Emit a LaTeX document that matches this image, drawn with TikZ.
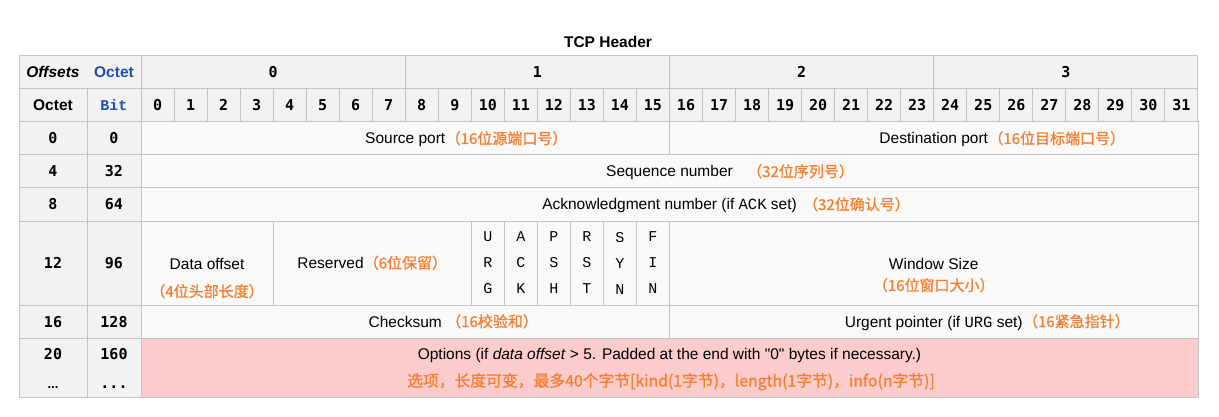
\documentclass[tikz,border=0pt]{standalone}
\usepackage{fontspec}
\setmainfont{Liberation Sans}[Ligatures=TeXOff]
\newfontfamily\bitfont{DejaVu Sans Mono}
\newfontfamily\flagfont{Liberation Mono}
\newfontfamily\cjk{Noto Sans CJK SC}[FakeBold=1]
\usetikzlibrary{positioning}
\definecolor{grid}{RGB}{196,196,196}
\definecolor{headbg}{RGB}{242,242,242}
\definecolor{cellbg}{RGB}{249,249,249}
\definecolor{optbg}{RGB}{252,204,204}
\definecolor{note}{RGB}{242,128,48}
\definecolor{wikiblue}{RGB}{30,80,180}
\def\bw{33.03}
\tikzset{
  every picture/.style={font=\fontsize{15.5}{18}\selectfont},
  box/.style={draw=grid,line width=1pt,fill=cellbg,inner sep=0pt,outer sep=0pt},
  txt/.style={text height=11pt,text depth=0pt},
  head/.style={box,txt,fill=headbg,font=\fontsize{15.5}{18}\selectfont\bfseries},
  num/.style={head,font=\bitfont\bfseries\fontsize{15}{18}\selectfont},
  lbl/.style={txt,inner sep=0pt},
  cn/.style={lbl,text=note,font=\cjk\fontsize{15}{18}\selectfont},
  flag/.style={box,align=center,font=\flagfont\fontsize{15}{26}\selectfont},
}
\begin{document}
\begin{tikzpicture}[x=1pt,y=-1pt]
  \useasboundingbox (0,0) rectangle (1219,417);
  \node[lbl,font=\fontsize{15.5}{18}\selectfont\bfseries] (title) at (608,42) {TCP Header};
  % header rows
  \node[head,minimum width=122pt,minimum height=33pt] (offs) at (80,72.5) {};
  \node[lbl,font=\fontsize{15.5}{18}\selectfont\bfseries\itshape] (offsets) at (53,72.5) {Offsets};
  \node[lbl,text=wikiblue,font=\fontsize{15.5}{18}\selectfont\bfseries] (octet) at (114,72.5) {Octet};
  \foreach \o in {0,...,3}
    \node[num,minimum width=8*\bw pt,minimum height=33pt] (oct\o) at ({141+8*\bw*\o+4*\bw},72.5) {\o};
  \node[head,minimum width=68pt,minimum height=33pt] (octlbl) at (53,105.5) {Octet};
  \node[head,minimum width=54pt,minimum height=33pt,text=wikiblue,font=\flagfont\bfseries\fontsize{15}{18}\selectfont] (bitlbl) at (114,105.5) {Bit};
  \foreach \b in {0,...,31}
    \node[num,minimum width=\bw pt,minimum height=33pt] (bit\b) at ({141+\bw*\b+\bw/2},105.5) {\b};
  % offset columns
  \foreach \oc/\bt/\y/\h [count=\r] in {0/0/138.5/33,4/32/171.5/33,8/64/204.5/33,12/96/263/84,16/128/321.5/33}{
    \node[num,minimum width=68pt,minimum height=\h pt] (oc\r) at (53,\y) {\oc};
    \node[num,minimum width=54pt,minimum height=\h pt] (bt\r) at (114,\y) {\bt};
  }
  \node[num,minimum width=68pt,minimum height=59pt] (oc6) at (53,367.5) {};
  \node[num,minimum width=54pt,minimum height=59pt] (bt6) at (114,367.5) {};
  \node[lbl,font=\bitfont\bfseries\fontsize{15}{18}\selectfont] (oc6a) at (53,354) {20};
  \node[lbl,font=\fontsize{13}{16}\selectfont\bfseries] (oc6b) at (53,383) {...};
  \node[lbl,font=\bitfont\bfseries\fontsize{15}{18}\selectfont] (bt6a) at (114,354) {160};
  \node[lbl,font=\bitfont\bfseries\fontsize{15}{18}\selectfont] (bt6b) at (114,383) {...};
  % fields
  \node[box,minimum width=528.5pt,minimum height=33pt] (src) at (405.25,138.5) {};
  \node[box,minimum width=528.5pt,minimum height=33pt] (dst) at (933.75,138.5) {};
  \node[box,minimum width=1057pt,minimum height=33pt] (seq) at (669.5,171.5) {};
  \node[box,minimum width=1057pt,minimum height=33pt] (ack) at (669.5,204.5) {};
  \node[box,minimum width=4*\bw pt,minimum height=84pt] (doff) at ({141+2*\bw},263) {};
  \node[box,minimum width=6*\bw pt,minimum height=84pt] (rsv) at ({141+7*\bw},263) {};
  \foreach \f/\a/\b/\c [count=\i from 10] in {urg/U/R/G,ackf/A/C/K,psh/P/S/H,rst/R/S/T,syn/S/Y/N,fin/F/I/N}
    \node[flag,minimum width=\bw pt,minimum height=84pt] (\f) at ({141+\bw*\i+\bw/2},263) {\a\\\b\\\c};
  \node[box,minimum width=528.5pt,minimum height=84pt] (win) at (933.75,263) {};
  \node[box,minimum width=528.5pt,minimum height=33pt] (chk) at (405.25,321.5) {};
  \node[box,minimum width=528.5pt,minimum height=33pt] (urgp) at (933.75,321.5) {};
  \node[box,fill=optbg,minimum width=1057pt,minimum height=59pt] (opt) at (669.5,367.5) {};
  % labels
  \node[lbl] (srct) at (src) {Source port};
  \node[cn,right=0pt of srct] (srcn) {（16位源端口号）};
  \node[lbl] (dstt) at (dst) {Destination port};
  \node[cn,right=0pt of dstt] (dstn) {（16位目标端口号）};
  \node[lbl] (seqt) at (seq) {Sequence number};
  \node[cn,right=14pt of seqt] (seqn) {（32位序列号）};
  \node[lbl] (ackt) at (ack) {Acknowledgment number (if {\flagfont ACK} set)};
  \node[cn,right=6pt of ackt] (ackn) {（32位确认号）};
  \node[lbl] (dofft) at ([yshift=-1pt]doff.center) {Data offset};
  \node[cn,below=16pt of dofft] (doffn) {（4位头部长度）};
  \node[lbl] (rsvt) at (rsv) {Reserved{\cjk\color{note}\fontsize{15}{18}\selectfont （6位保留）}};
  \node[lbl] (wint) at ([yshift=-1pt]win.center) {Window Size};
  \node[cn,below=10pt of wint] (winn) {（16位窗口大小）};
  \node[lbl] (chkt) at (chk) {Checksum};
  \node[cn,right=4pt of chkt] (chkn) {（16校验和）};
  \node[lbl] (urgt) at (urgp) {Urgent pointer (if {\flagfont URG} set)};
  \node[cn,right=0pt of urgt] (urgn) {（16紧急指针）};
  \node[lbl] (optt) at (669.5,354) {Options (if \textit{data offset} > 5. Padded at the end with "0" bytes if necessary.)};
  \node[cn,font=\cjk\fontsize{15.8}{18}\selectfont] (optn) at (671,381) {选项，长度可变，最多40个字节[kind(1字节)，length(1字节)，info(n字节)]};
\end{tikzpicture}
\end{document}
